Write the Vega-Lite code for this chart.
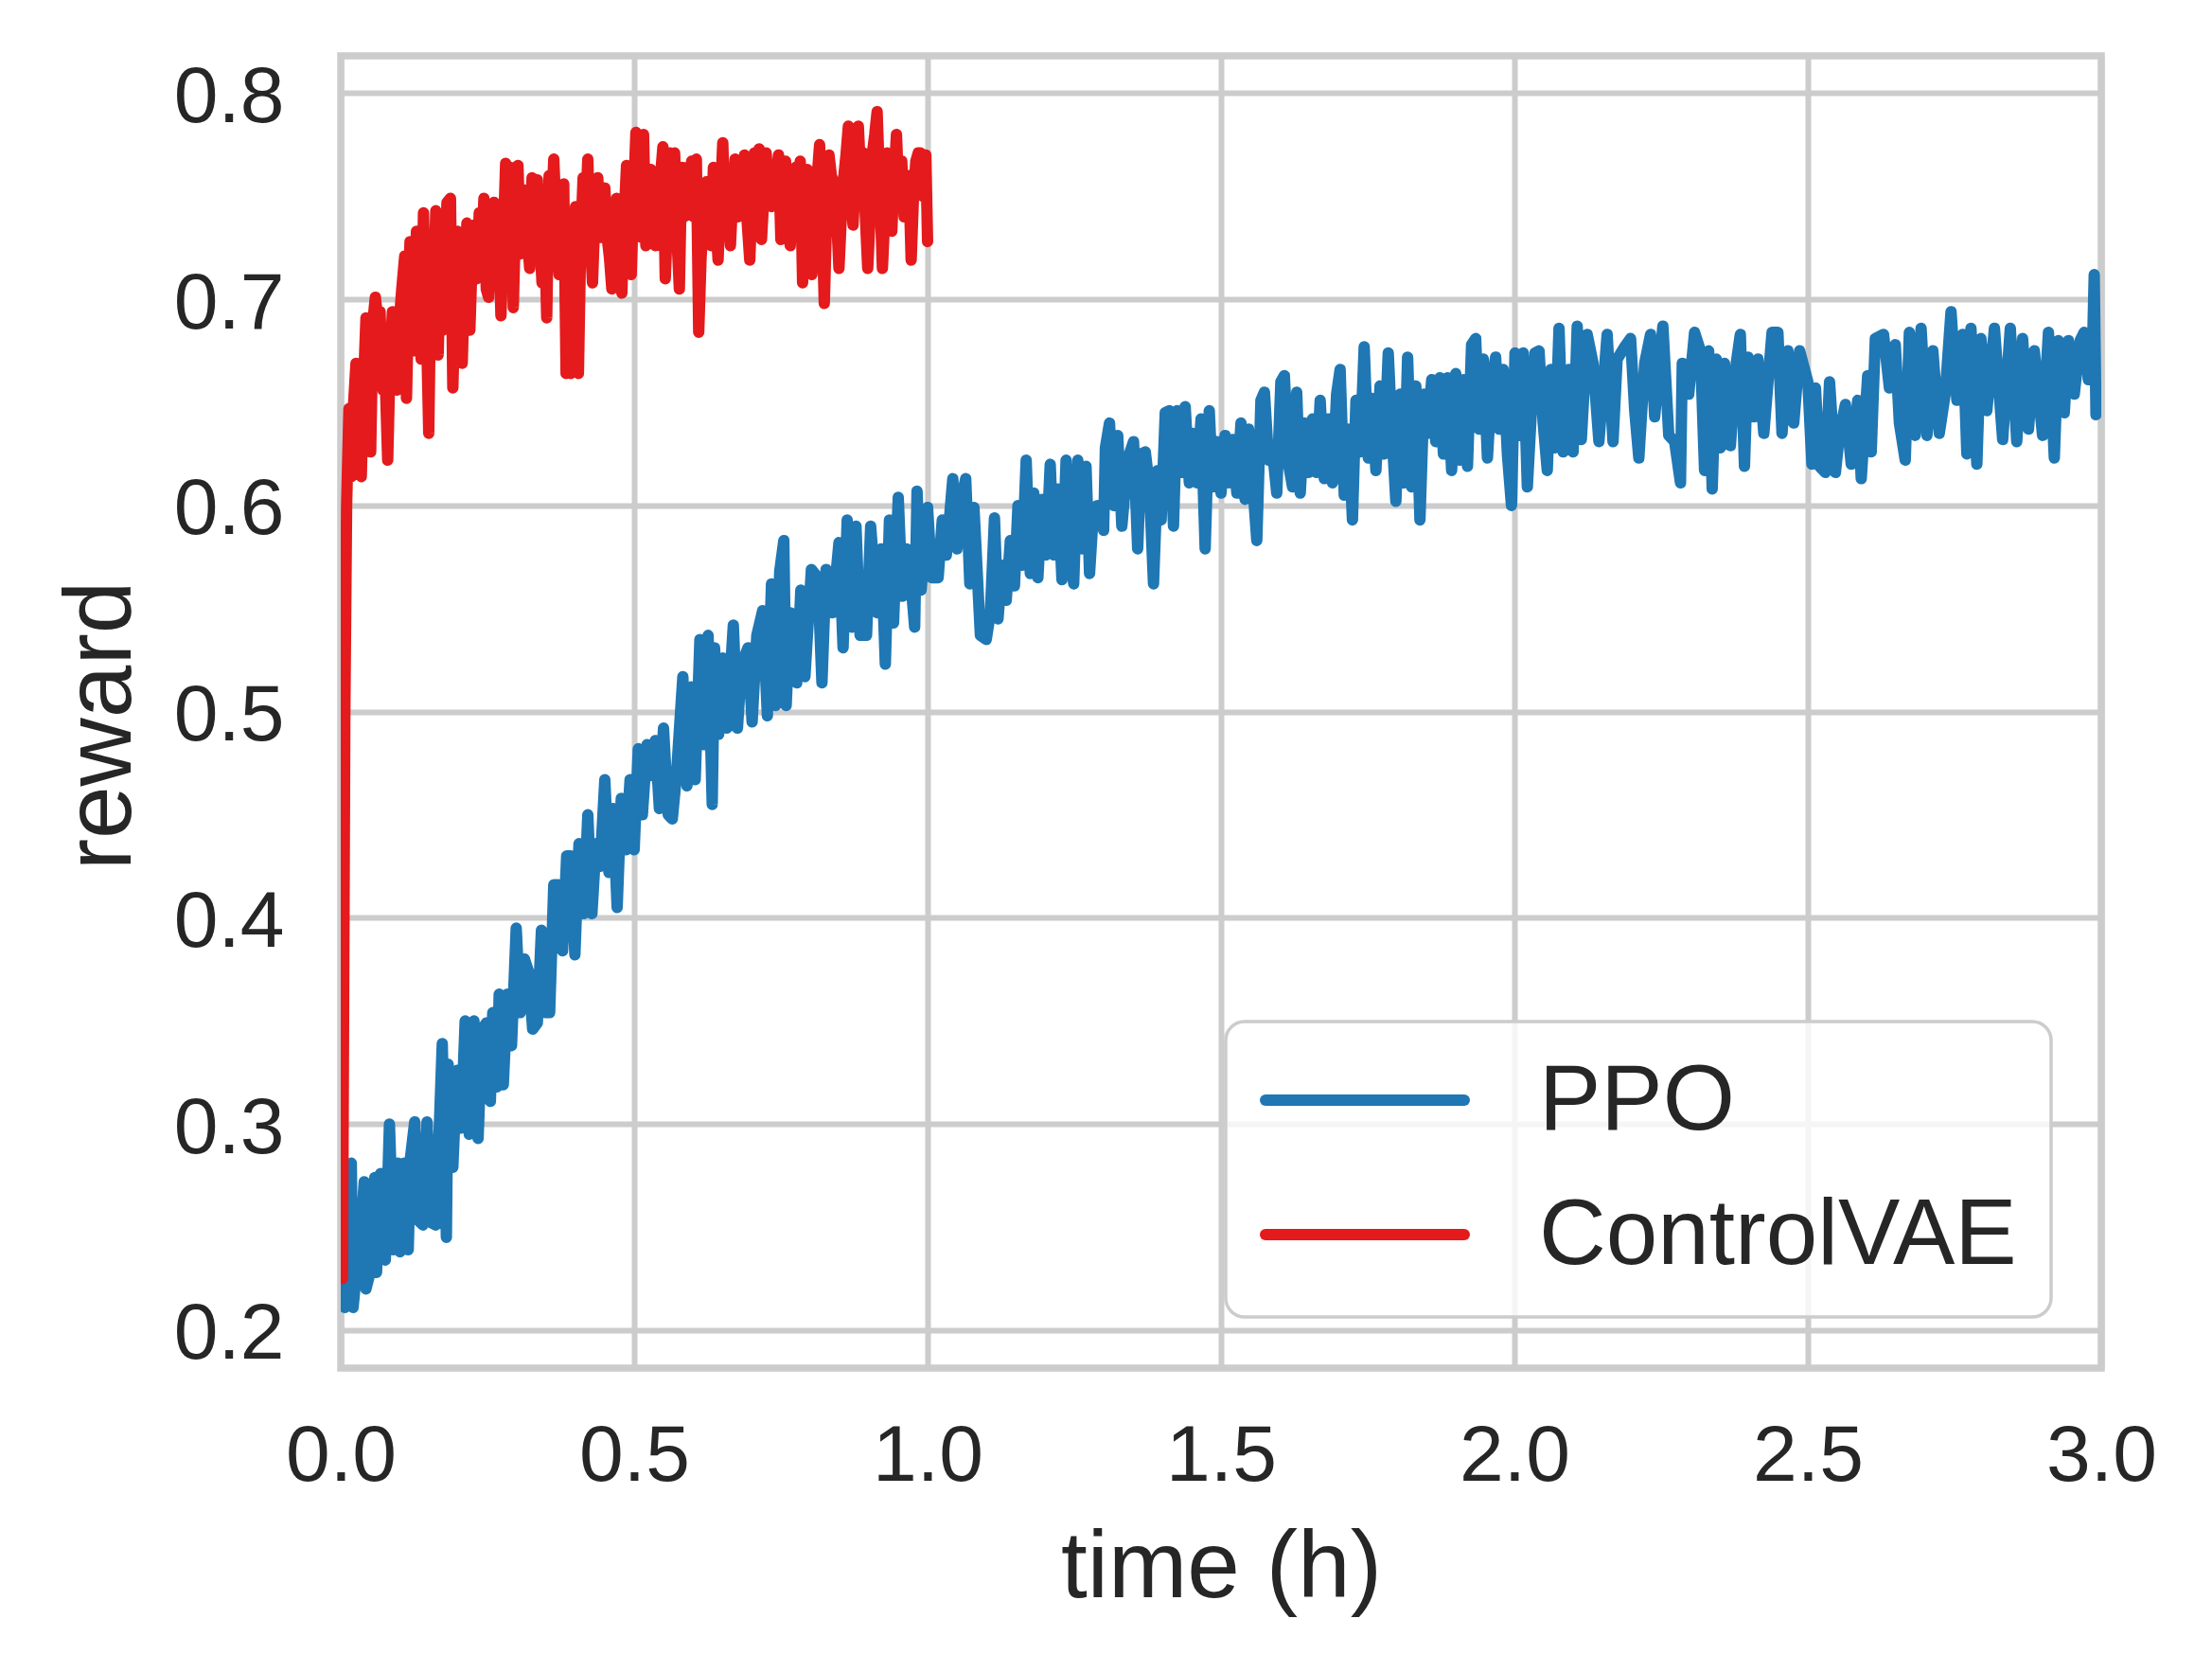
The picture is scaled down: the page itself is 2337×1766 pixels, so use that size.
{
  "$schema": "https://vega.github.io/schema/vega-lite/v6.json",
  "autosize": {"type": "none"},
  "padding": {"left": 360, "top": 59, "right": 117, "bottom": 321},
  "width": 1860,
  "height": 1386,
  "background": "white",
  "config": {
    "font": "Liberation Sans",
    "view": {"stroke": "#cccccc", "strokeWidth": 7.5},
    "axis": {
      "domain": false,
      "ticks": false,
      "tickSize": 0,
      "grid": true,
      "gridColor": "#cccccc",
      "gridWidth": 6,
      "labelFont": "Liberation Sans",
      "labelFontSize": 84,
      "labelColor": "#262626",
      "titleFont": "Liberation Sans",
      "titleFontSize": 100,
      "titleFontWeight": "normal",
      "titleColor": "#262626"
    },
    "legend": {
      "labelFont": "Liberation Sans",
      "labelFontSize": 98,
      "labelColor": "#262626",
      "labelLimit": 2000
    }
  },
  "data": {
    "values": [
      {"m":"PPO","t":0.003,"r":0.215},{"m":"PPO","t":0.007,"r":0.211},{"m":"PPO","t":0.010,"r":0.242},{"m":"PPO","t":0.018,"r":0.281},{"m":"PPO","t":0.021,"r":0.211},{"m":"PPO","t":0.025,"r":0.223},{"m":"PPO","t":0.032,"r":0.237},{"m":"PPO","t":0.040,"r":0.272},{"m":"PPO","t":0.043,"r":0.220},{"m":"PPO","t":0.050,"r":0.228},
      {"m":"PPO","t":0.058,"r":0.274},{"m":"PPO","t":0.061,"r":0.228},{"m":"PPO","t":0.068,"r":0.276},{"m":"PPO","t":0.076,"r":0.234},{"m":"PPO","t":0.083,"r":0.300},{"m":"PPO","t":0.090,"r":0.239},{"m":"PPO","t":0.097,"r":0.281},{"m":"PPO","t":0.101,"r":0.238},{"m":"PPO","t":0.108,"r":0.281},{"m":"PPO","t":0.115,"r":0.239},
      {"m":"PPO","t":0.119,"r":0.284},{"m":"PPO","t":0.126,"r":0.301},{"m":"PPO","t":0.133,"r":0.253},{"m":"PPO","t":0.140,"r":0.251},{"m":"PPO","t":0.147,"r":0.301},{"m":"PPO","t":0.155,"r":0.252},{"m":"PPO","t":0.162,"r":0.251},{"m":"PPO","t":0.173,"r":0.339},{"m":"PPO","t":0.180,"r":0.245},{"m":"PPO","t":0.183,"r":0.329},
      {"m":"PPO","t":0.191,"r":0.279},{"m":"PPO","t":0.198,"r":0.326},{"m":"PPO","t":0.205,"r":0.298},{"m":"PPO","t":0.212,"r":0.350},{"m":"PPO","t":0.219,"r":0.295},{"m":"PPO","t":0.227,"r":0.350},{"m":"PPO","t":0.234,"r":0.293},{"m":"PPO","t":0.241,"r":0.346},{"m":"PPO","t":0.248,"r":0.349},{"m":"PPO","t":0.255,"r":0.311},
      {"m":"PPO","t":0.259,"r":0.354},{"m":"PPO","t":0.266,"r":0.318},{"m":"PPO","t":0.270,"r":0.363},{"m":"PPO","t":0.277,"r":0.319},{"m":"PPO","t":0.284,"r":0.363},{"m":"PPO","t":0.291,"r":0.338},{"m":"PPO","t":0.299,"r":0.395},{"m":"PPO","t":0.306,"r":0.354},{"m":"PPO","t":0.313,"r":0.380},{"m":"PPO","t":0.320,"r":0.374},
      {"m":"PPO","t":0.327,"r":0.346},{"m":"PPO","t":0.335,"r":0.349},{"m":"PPO","t":0.342,"r":0.394},{"m":"PPO","t":0.349,"r":0.354},{"m":"PPO","t":0.356,"r":0.354},{"m":"PPO","t":0.363,"r":0.416},{"m":"PPO","t":0.371,"r":0.416},{"m":"PPO","t":0.378,"r":0.384},{"m":"PPO","t":0.385,"r":0.430},{"m":"PPO","t":0.392,"r":0.430},
      {"m":"PPO","t":0.399,"r":0.382},{"m":"PPO","t":0.406,"r":0.436},{"m":"PPO","t":0.414,"r":0.402},{"m":"PPO","t":0.421,"r":0.450},{"m":"PPO","t":0.428,"r":0.402},{"m":"PPO","t":0.435,"r":0.436},{"m":"PPO","t":0.442,"r":0.425},{"m":"PPO","t":0.450,"r":0.467},{"m":"PPO","t":0.457,"r":0.422},{"m":"PPO","t":0.464,"r":0.453},
      {"m":"PPO","t":0.471,"r":0.405},{"m":"PPO","t":0.478,"r":0.458},{"m":"PPO","t":0.486,"r":0.433},{"m":"PPO","t":0.493,"r":0.467},{"m":"PPO","t":0.500,"r":0.433},{"m":"PPO","t":0.507,"r":0.482},{"m":"PPO","t":0.514,"r":0.450},{"m":"PPO","t":0.522,"r":0.484},{"m":"PPO","t":0.529,"r":0.469},{"m":"PPO","t":0.536,"r":0.486},
      {"m":"PPO","t":0.543,"r":0.453},{"m":"PPO","t":0.550,"r":0.492},{"m":"PPO","t":0.558,"r":0.450},{"m":"PPO","t":0.565,"r":0.448},{"m":"PPO","t":0.572,"r":0.469},{"m":"PPO","t":0.583,"r":0.517},{"m":"PPO","t":0.590,"r":0.464},{"m":"PPO","t":0.597,"r":0.512},{"m":"PPO","t":0.604,"r":0.467},{"m":"PPO","t":0.612,"r":0.535},
      {"m":"PPO","t":0.619,"r":0.484},{"m":"PPO","t":0.626,"r":0.537},{"m":"PPO","t":0.633,"r":0.455},{"m":"PPO","t":0.637,"r":0.531},{"m":"PPO","t":0.644,"r":0.489},{"m":"PPO","t":0.651,"r":0.526},{"m":"PPO","t":0.658,"r":0.492},{"m":"PPO","t":0.669,"r":0.542},{"m":"PPO","t":0.676,"r":0.492},{"m":"PPO","t":0.683,"r":0.523},
      {"m":"PPO","t":0.694,"r":0.531},{"m":"PPO","t":0.701,"r":0.495},{"m":"PPO","t":0.709,"r":0.537},{"m":"PPO","t":0.719,"r":0.549},{"m":"PPO","t":0.727,"r":0.498},{"m":"PPO","t":0.734,"r":0.562},{"m":"PPO","t":0.741,"r":0.503},{"m":"PPO","t":0.748,"r":0.568},{"m":"PPO","t":0.755,"r":0.583},{"m":"PPO","t":0.759,"r":0.503},
      {"m":"PPO","t":0.766,"r":0.548},{"m":"PPO","t":0.777,"r":0.514},{"m":"PPO","t":0.784,"r":0.559},{"m":"PPO","t":0.791,"r":0.517},{"m":"PPO","t":0.802,"r":0.569},{"m":"PPO","t":0.813,"r":0.565},{"m":"PPO","t":0.820,"r":0.514},{"m":"PPO","t":0.827,"r":0.569},{"m":"PPO","t":0.838,"r":0.548},{"m":"PPO","t":0.849,"r":0.582},
      {"m":"PPO","t":0.856,"r":0.531},{"m":"PPO","t":0.863,"r":0.593},{"m":"PPO","t":0.871,"r":0.541},{"m":"PPO","t":0.878,"r":0.590},{"m":"PPO","t":0.885,"r":0.537},{"m":"PPO","t":0.896,"r":0.537},{"m":"PPO","t":0.903,"r":0.590},{"m":"PPO","t":0.914,"r":0.548},{"m":"PPO","t":0.921,"r":0.579},{"m":"PPO","t":0.928,"r":0.523},
      {"m":"PPO","t":0.935,"r":0.593},{"m":"PPO","t":0.942,"r":0.543},{"m":"PPO","t":0.950,"r":0.604},{"m":"PPO","t":0.957,"r":0.556},{"m":"PPO","t":0.964,"r":0.579},{"m":"PPO","t":0.971,"r":0.565},{"m":"PPO","t":0.978,"r":0.541},{"m":"PPO","t":0.982,"r":0.607},{"m":"PPO","t":0.989,"r":0.559},{"m":"PPO","t":1.000,"r":0.599},
      {"m":"PPO","t":1.007,"r":0.565},{"m":"PPO","t":1.018,"r":0.565},{"m":"PPO","t":1.025,"r":0.593},{"m":"PPO","t":1.032,"r":0.576},{"m":"PPO","t":1.043,"r":0.613},{"m":"PPO","t":1.050,"r":0.579},{"m":"PPO","t":1.058,"r":0.604},{"m":"PPO","t":1.065,"r":0.613},{"m":"PPO","t":1.072,"r":0.562},{"m":"PPO","t":1.079,"r":0.599},
      {"m":"PPO","t":1.090,"r":0.537},{"m":"PPO","t":1.100,"r":0.535},{"m":"PPO","t":1.107,"r":0.548},{"m":"PPO","t":1.114,"r":0.594},{"m":"PPO","t":1.120,"r":0.545},{"m":"PPO","t":1.127,"r":0.571},{"m":"PPO","t":1.134,"r":0.554},{"m":"PPO","t":1.141,"r":0.583},{"m":"PPO","t":1.148,"r":0.561},{"m":"PPO","t":1.154,"r":0.600},
      {"m":"PPO","t":1.161,"r":0.571},{"m":"PPO","t":1.168,"r":0.622},{"m":"PPO","t":1.175,"r":0.567},{"m":"PPO","t":1.181,"r":0.606},{"m":"PPO","t":1.188,"r":0.565},{"m":"PPO","t":1.195,"r":0.603},{"m":"PPO","t":1.202,"r":0.576},{"m":"PPO","t":1.209,"r":0.620},{"m":"PPO","t":1.215,"r":0.576},{"m":"PPO","t":1.222,"r":0.608},
      {"m":"PPO","t":1.229,"r":0.564},{"m":"PPO","t":1.236,"r":0.622},{"m":"PPO","t":1.242,"r":0.579},{"m":"PPO","t":1.249,"r":0.562},{"m":"PPO","t":1.256,"r":0.622},{"m":"PPO","t":1.263,"r":0.579},{"m":"PPO","t":1.270,"r":0.619},{"m":"PPO","t":1.276,"r":0.567},{"m":"PPO","t":1.283,"r":0.599},{"m":"PPO","t":1.290,"r":0.600},
      {"m":"PPO","t":1.300,"r":0.588},{"m":"PPO","t":1.303,"r":0.628},{"m":"PPO","t":1.310,"r":0.640},{"m":"PPO","t":1.317,"r":0.600},{"m":"PPO","t":1.324,"r":0.634},{"m":"PPO","t":1.331,"r":0.590},{"m":"PPO","t":1.337,"r":0.609},{"m":"PPO","t":1.344,"r":0.625},{"m":"PPO","t":1.351,"r":0.631},{"m":"PPO","t":1.358,"r":0.579},
      {"m":"PPO","t":1.364,"r":0.625},{"m":"PPO","t":1.371,"r":0.626},{"m":"PPO","t":1.378,"r":0.609},{"m":"PPO","t":1.385,"r":0.562},{"m":"PPO","t":1.392,"r":0.617},{"m":"PPO","t":1.398,"r":0.593},{"m":"PPO","t":1.405,"r":0.645},{"m":"PPO","t":1.412,"r":0.646},{"m":"PPO","t":1.419,"r":0.590},{"m":"PPO","t":1.425,"r":0.646},
      {"m":"PPO","t":1.432,"r":0.616},{"m":"PPO","t":1.439,"r":0.648},{"m":"PPO","t":1.446,"r":0.611},{"m":"PPO","t":1.452,"r":0.635},{"m":"PPO","t":1.459,"r":0.611},{"m":"PPO","t":1.466,"r":0.642},{"m":"PPO","t":1.473,"r":0.579},{"m":"PPO","t":1.480,"r":0.646},{"m":"PPO","t":1.486,"r":0.609},{"m":"PPO","t":1.493,"r":0.631},
      {"m":"PPO","t":1.500,"r":0.606},{"m":"PPO","t":1.507,"r":0.634},{"m":"PPO","t":1.513,"r":0.611},{"m":"PPO","t":1.520,"r":0.632},{"m":"PPO","t":1.527,"r":0.606},{"m":"PPO","t":1.534,"r":0.640},{"m":"PPO","t":1.541,"r":0.603},{"m":"PPO","t":1.547,"r":0.637},{"m":"PPO","t":1.554,"r":0.611},{"m":"PPO","t":1.561,"r":0.583},
      {"m":"PPO","t":1.568,"r":0.651},{"m":"PPO","t":1.574,"r":0.655},{"m":"PPO","t":1.581,"r":0.622},{"m":"PPO","t":1.588,"r":0.626},{"m":"PPO","t":1.595,"r":0.606},{"m":"PPO","t":1.602,"r":0.660},{"m":"PPO","t":1.608,"r":0.663},{"m":"PPO","t":1.615,"r":0.620},{"m":"PPO","t":1.622,"r":0.609},{"m":"PPO","t":1.629,"r":0.655},
      {"m":"PPO","t":1.635,"r":0.606},{"m":"PPO","t":1.642,"r":0.640},{"m":"PPO","t":1.649,"r":0.616},{"m":"PPO","t":1.656,"r":0.642},{"m":"PPO","t":1.663,"r":0.616},{"m":"PPO","t":1.669,"r":0.651},{"m":"PPO","t":1.676,"r":0.613},{"m":"PPO","t":1.683,"r":0.642},{"m":"PPO","t":1.690,"r":0.611},{"m":"PPO","t":1.697,"r":0.654},
      {"m":"PPO","t":1.703,"r":0.666},{"m":"PPO","t":1.710,"r":0.605},{"m":"PPO","t":1.717,"r":0.637},{"m":"PPO","t":1.724,"r":0.593},{"m":"PPO","t":1.730,"r":0.651},{"m":"PPO","t":1.737,"r":0.626},{"m":"PPO","t":1.744,"r":0.677},{"m":"PPO","t":1.751,"r":0.623},{"m":"PPO","t":1.757,"r":0.652},{"m":"PPO","t":1.764,"r":0.617},
      {"m":"PPO","t":1.771,"r":0.658},{"m":"PPO","t":1.778,"r":0.625},{"m":"PPO","t":1.785,"r":0.674},{"m":"PPO","t":1.791,"r":0.637},{"m":"PPO","t":1.798,"r":0.602},{"m":"PPO","t":1.805,"r":0.654},{"m":"PPO","t":1.812,"r":0.611},{"m":"PPO","t":1.818,"r":0.672},{"m":"PPO","t":1.825,"r":0.609},{"m":"PPO","t":1.832,"r":0.658},
      {"m":"PPO","t":1.839,"r":0.593},{"m":"PPO","t":1.846,"r":0.654},{"m":"PPO","t":1.852,"r":0.635},{"m":"PPO","t":1.859,"r":0.661},{"m":"PPO","t":1.866,"r":0.631},{"m":"PPO","t":1.873,"r":0.662},{"m":"PPO","t":1.879,"r":0.625},{"m":"PPO","t":1.886,"r":0.662},{"m":"PPO","t":1.893,"r":0.617},{"m":"PPO","t":1.900,"r":0.664},
      {"m":"PPO","t":1.907,"r":0.622},{"m":"PPO","t":1.913,"r":0.661},{"m":"PPO","t":1.920,"r":0.619},{"m":"PPO","t":1.927,"r":0.678},{"m":"PPO","t":1.934,"r":0.681},{"m":"PPO","t":1.940,"r":0.637},{"m":"PPO","t":1.947,"r":0.671},{"m":"PPO","t":1.954,"r":0.623},{"m":"PPO","t":1.961,"r":0.658},{"m":"PPO","t":1.968,"r":0.672},
      {"m":"PPO","t":1.974,"r":0.637},{"m":"PPO","t":1.981,"r":0.666},{"m":"PPO","t":1.988,"r":0.625},{"m":"PPO","t":1.995,"r":0.600},{"m":"PPO","t":2.001,"r":0.674},{"m":"PPO","t":2.008,"r":0.634},{"m":"PPO","t":2.015,"r":0.674},{"m":"PPO","t":2.022,"r":0.609},{"m":"PPO","t":2.029,"r":0.646},{"m":"PPO","t":2.035,"r":0.674},
      {"m":"PPO","t":2.042,"r":0.675},{"m":"PPO","t":2.049,"r":0.640},{"m":"PPO","t":2.056,"r":0.617},{"m":"PPO","t":2.062,"r":0.666},{"m":"PPO","t":2.069,"r":0.628},{"m":"PPO","t":2.076,"r":0.686},{"m":"PPO","t":2.083,"r":0.626},{"m":"PPO","t":2.093,"r":0.666},{"m":"PPO","t":2.100,"r":0.626},{"m":"PPO","t":2.107,"r":0.687},
      {"m":"PPO","t":2.114,"r":0.632},{"m":"PPO","t":2.124,"r":0.683},{"m":"PPO","t":2.134,"r":0.669},{"m":"PPO","t":2.144,"r":0.631},{"m":"PPO","t":2.158,"r":0.683},{"m":"PPO","t":2.168,"r":0.631},{"m":"PPO","t":2.175,"r":0.671},{"m":"PPO","t":2.188,"r":0.677},{"m":"PPO","t":2.198,"r":0.681},{"m":"PPO","t":2.205,"r":0.646},
      {"m":"PPO","t":2.212,"r":0.623},{"m":"PPO","t":2.222,"r":0.669},{"m":"PPO","t":2.232,"r":0.683},{"m":"PPO","t":2.239,"r":0.643},{"m":"PPO","t":2.253,"r":0.687},{"m":"PPO","t":2.263,"r":0.634},{"m":"PPO","t":2.273,"r":0.631},{"m":"PPO","t":2.283,"r":0.611},{"m":"PPO","t":2.286,"r":0.669},{"m":"PPO","t":2.297,"r":0.654},
      {"m":"PPO","t":2.307,"r":0.684},{"m":"PPO","t":2.317,"r":0.675},{"m":"PPO","t":2.324,"r":0.617},{"m":"PPO","t":2.331,"r":0.675},{"m":"PPO","t":2.337,"r":0.608},{"m":"PPO","t":2.344,"r":0.671},{"m":"PPO","t":2.351,"r":0.628},{"m":"PPO","t":2.358,"r":0.669},{"m":"PPO","t":2.368,"r":0.629},{"m":"PPO","t":2.378,"r":0.669},
      {"m":"PPO","t":2.385,"r":0.683},{"m":"PPO","t":2.392,"r":0.619},{"m":"PPO","t":2.398,"r":0.672},{"m":"PPO","t":2.408,"r":0.643},{"m":"PPO","t":2.415,"r":0.671},{"m":"PPO","t":2.425,"r":0.635},{"m":"PPO","t":2.439,"r":0.684},{"m":"PPO","t":2.449,"r":0.684},{"m":"PPO","t":2.456,"r":0.635},{"m":"PPO","t":2.466,"r":0.675},
      {"m":"PPO","t":2.476,"r":0.640},{"m":"PPO","t":2.486,"r":0.675},{"m":"PPO","t":2.500,"r":0.660},{"m":"PPO","t":2.507,"r":0.620},{"m":"PPO","t":2.513,"r":0.657},{"m":"PPO","t":2.520,"r":0.619},{"m":"PPO","t":2.530,"r":0.616},{"m":"PPO","t":2.537,"r":0.660},{"m":"PPO","t":2.547,"r":0.616},{"m":"PPO","t":2.554,"r":0.635},
      {"m":"PPO","t":2.564,"r":0.649},{"m":"PPO","t":2.574,"r":0.620},{"m":"PPO","t":2.585,"r":0.651},{"m":"PPO","t":2.591,"r":0.613},{"m":"PPO","t":2.602,"r":0.663},{"m":"PPO","t":2.608,"r":0.626},{"m":"PPO","t":2.615,"r":0.681},{"m":"PPO","t":2.629,"r":0.683},{"m":"PPO","t":2.639,"r":0.657},{"m":"PPO","t":2.649,"r":0.678},
      {"m":"PPO","t":2.656,"r":0.640},{"m":"PPO","t":2.666,"r":0.622},{"m":"PPO","t":2.673,"r":0.684},{"m":"PPO","t":2.683,"r":0.634},{"m":"PPO","t":2.693,"r":0.686},{"m":"PPO","t":2.703,"r":0.634},{"m":"PPO","t":2.713,"r":0.675},{"m":"PPO","t":2.724,"r":0.635},{"m":"PPO","t":2.734,"r":0.654},{"m":"PPO","t":2.744,"r":0.694},
      {"m":"PPO","t":2.754,"r":0.651},{"m":"PPO","t":2.764,"r":0.683},{"m":"PPO","t":2.771,"r":0.625},{"m":"PPO","t":2.778,"r":0.686},{"m":"PPO","t":2.788,"r":0.620},{"m":"PPO","t":2.795,"r":0.681},{"m":"PPO","t":2.805,"r":0.646},{"m":"PPO","t":2.818,"r":0.686},{"m":"PPO","t":2.832,"r":0.632},{"m":"PPO","t":2.845,"r":0.686},
      {"m":"PPO","t":2.856,"r":0.631},{"m":"PPO","t":2.866,"r":0.681},{"m":"PPO","t":2.876,"r":0.637},{"m":"PPO","t":2.886,"r":0.675},{"m":"PPO","t":2.900,"r":0.634},{"m":"PPO","t":2.910,"r":0.684},{"m":"PPO","t":2.920,"r":0.623},{"m":"PPO","t":2.927,"r":0.680},{"m":"PPO","t":2.937,"r":0.645},{"m":"PPO","t":2.944,"r":0.680},
      {"m":"PPO","t":2.954,"r":0.654},{"m":"PPO","t":2.964,"r":0.680},{"m":"PPO","t":2.971,"r":0.684},{"m":"PPO","t":2.978,"r":0.661},{"m":"PPO","t":2.985,"r":0.675},{"m":"PPO","t":2.988,"r":0.712},{"m":"PPO","t":2.991,"r":0.644},

      {"m":"ControlVAE","t":0.003,"r":0.225},{"m":"ControlVAE","t":0.007,"r":0.500},{"m":"ControlVAE","t":0.010,"r":0.600},{"m":"ControlVAE","t":0.014,"r":0.647},{"m":"ControlVAE","t":0.018,"r":0.614},{"m":"ControlVAE","t":0.022,"r":0.650},{"m":"ControlVAE","t":0.026,"r":0.669},{"m":"ControlVAE","t":0.030,"r":0.630},{"m":"ControlVAE","t":0.035,"r":0.614},{"m":"ControlVAE","t":0.039,"r":0.660},
      {"m":"ControlVAE","t":0.043,"r":0.691},{"m":"ControlVAE","t":0.047,"r":0.640},{"m":"ControlVAE","t":0.051,"r":0.626},{"m":"ControlVAE","t":0.055,"r":0.690},{"m":"ControlVAE","t":0.059,"r":0.701},{"m":"ControlVAE","t":0.063,"r":0.690},{"m":"ControlVAE","t":0.067,"r":0.694},{"m":"ControlVAE","t":0.072,"r":0.656},{"m":"ControlVAE","t":0.076,"r":0.660},{"m":"ControlVAE","t":0.080,"r":0.622},
      {"m":"ControlVAE","t":0.084,"r":0.670},{"m":"ControlVAE","t":0.088,"r":0.694},{"m":"ControlVAE","t":0.092,"r":0.680},{"m":"ControlVAE","t":0.096,"r":0.656},{"m":"ControlVAE","t":0.100,"r":0.690},{"m":"ControlVAE","t":0.104,"r":0.705},{"m":"ControlVAE","t":0.109,"r":0.721},{"m":"ControlVAE","t":0.112,"r":0.652},{"m":"ControlVAE","t":0.118,"r":0.728},{"m":"ControlVAE","t":0.121,"r":0.700},
      {"m":"ControlVAE","t":0.125,"r":0.675},{"m":"ControlVAE","t":0.129,"r":0.733},{"m":"ControlVAE","t":0.133,"r":0.700},{"m":"ControlVAE","t":0.137,"r":0.671},{"m":"ControlVAE","t":0.141,"r":0.742},{"m":"ControlVAE","t":0.145,"r":0.700},{"m":"ControlVAE","t":0.150,"r":0.635},{"m":"ControlVAE","t":0.154,"r":0.722},{"m":"ControlVAE","t":0.158,"r":0.700},{"m":"ControlVAE","t":0.162,"r":0.743},
      {"m":"ControlVAE","t":0.166,"r":0.673},{"m":"ControlVAE","t":0.170,"r":0.720},{"m":"ControlVAE","t":0.174,"r":0.685},{"m":"ControlVAE","t":0.178,"r":0.720},{"m":"ControlVAE","t":0.181,"r":0.747},{"m":"ControlVAE","t":0.187,"r":0.749},{"m":"ControlVAE","t":0.191,"r":0.657},{"m":"ControlVAE","t":0.195,"r":0.700},{"m":"ControlVAE","t":0.199,"r":0.733},{"m":"ControlVAE","t":0.203,"r":0.720},
      {"m":"ControlVAE","t":0.207,"r":0.669},{"m":"ControlVAE","t":0.211,"r":0.710},{"m":"ControlVAE","t":0.215,"r":0.737},{"m":"ControlVAE","t":0.220,"r":0.685},{"m":"ControlVAE","t":0.224,"r":0.720},{"m":"ControlVAE","t":0.228,"r":0.736},{"m":"ControlVAE","t":0.232,"r":0.710},{"m":"ControlVAE","t":0.236,"r":0.742},{"m":"ControlVAE","t":0.240,"r":0.720},{"m":"ControlVAE","t":0.244,"r":0.749},
      {"m":"ControlVAE","t":0.248,"r":0.705},{"m":"ControlVAE","t":0.252,"r":0.701},{"m":"ControlVAE","t":0.256,"r":0.730},{"m":"ControlVAE","t":0.261,"r":0.747},{"m":"ControlVAE","t":0.265,"r":0.720},{"m":"ControlVAE","t":0.269,"r":0.733},{"m":"ControlVAE","t":0.273,"r":0.692},{"m":"ControlVAE","t":0.277,"r":0.730},{"m":"ControlVAE","t":0.281,"r":0.766},{"m":"ControlVAE","t":0.285,"r":0.730},
      {"m":"ControlVAE","t":0.289,"r":0.764},{"m":"ControlVAE","t":0.294,"r":0.696},{"m":"ControlVAE","t":0.298,"r":0.740},{"m":"ControlVAE","t":0.302,"r":0.765},{"m":"ControlVAE","t":0.306,"r":0.722},{"m":"ControlVAE","t":0.310,"r":0.740},{"m":"ControlVAE","t":0.314,"r":0.753},{"m":"ControlVAE","t":0.318,"r":0.730},{"m":"ControlVAE","t":0.322,"r":0.715},{"m":"ControlVAE","t":0.326,"r":0.759},
      {"m":"ControlVAE","t":0.330,"r":0.740},{"m":"ControlVAE","t":0.335,"r":0.758},{"m":"ControlVAE","t":0.339,"r":0.730},{"m":"ControlVAE","t":0.343,"r":0.708},{"m":"ControlVAE","t":0.347,"r":0.740},{"m":"ControlVAE","t":0.351,"r":0.691},{"m":"ControlVAE","t":0.355,"r":0.760},{"m":"ControlVAE","t":0.359,"r":0.740},{"m":"ControlVAE","t":0.363,"r":0.768},{"m":"ControlVAE","t":0.367,"r":0.740},
      {"m":"ControlVAE","t":0.372,"r":0.712},{"m":"ControlVAE","t":0.376,"r":0.730},{"m":"ControlVAE","t":0.380,"r":0.756},{"m":"ControlVAE","t":0.384,"r":0.664},{"m":"ControlVAE","t":0.388,"r":0.700},{"m":"ControlVAE","t":0.392,"r":0.664},{"m":"ControlVAE","t":0.396,"r":0.720},{"m":"ControlVAE","t":0.400,"r":0.745},{"m":"ControlVAE","t":0.405,"r":0.664},{"m":"ControlVAE","t":0.409,"r":0.730},
      {"m":"ControlVAE","t":0.413,"r":0.759},{"m":"ControlVAE","t":0.417,"r":0.740},{"m":"ControlVAE","t":0.421,"r":0.768},{"m":"ControlVAE","t":0.425,"r":0.730},{"m":"ControlVAE","t":0.429,"r":0.708},{"m":"ControlVAE","t":0.433,"r":0.740},{"m":"ControlVAE","t":0.438,"r":0.759},{"m":"ControlVAE","t":0.442,"r":0.730},{"m":"ControlVAE","t":0.446,"r":0.745},{"m":"ControlVAE","t":0.450,"r":0.754},
      {"m":"ControlVAE","t":0.454,"r":0.730},{"m":"ControlVAE","t":0.458,"r":0.720},{"m":"ControlVAE","t":0.462,"r":0.705},{"m":"ControlVAE","t":0.466,"r":0.730},{"m":"ControlVAE","t":0.470,"r":0.749},{"m":"ControlVAE","t":0.475,"r":0.720},{"m":"ControlVAE","t":0.479,"r":0.703},{"m":"ControlVAE","t":0.483,"r":0.740},{"m":"ControlVAE","t":0.487,"r":0.765},{"m":"ControlVAE","t":0.491,"r":0.740},
      {"m":"ControlVAE","t":0.495,"r":0.712},{"m":"ControlVAE","t":0.499,"r":0.750},{"m":"ControlVAE","t":0.503,"r":0.781},{"m":"ControlVAE","t":0.507,"r":0.750},{"m":"ControlVAE","t":0.512,"r":0.730},{"m":"ControlVAE","t":0.516,"r":0.780},{"m":"ControlVAE","t":0.520,"r":0.726},{"m":"ControlVAE","t":0.524,"r":0.750},{"m":"ControlVAE","t":0.528,"r":0.763},{"m":"ControlVAE","t":0.532,"r":0.740},
      {"m":"ControlVAE","t":0.536,"r":0.726},{"m":"ControlVAE","t":0.540,"r":0.750},{"m":"ControlVAE","t":0.545,"r":0.760},{"m":"ControlVAE","t":0.549,"r":0.774},{"m":"ControlVAE","t":0.553,"r":0.710},{"m":"ControlVAE","t":0.557,"r":0.740},{"m":"ControlVAE","t":0.561,"r":0.771},{"m":"ControlVAE","t":0.565,"r":0.750},{"m":"ControlVAE","t":0.569,"r":0.771},{"m":"ControlVAE","t":0.573,"r":0.730},
      {"m":"ControlVAE","t":0.577,"r":0.705},{"m":"ControlVAE","t":0.581,"r":0.764},{"m":"ControlVAE","t":0.585,"r":0.740},{"m":"ControlVAE","t":0.590,"r":0.764},{"m":"ControlVAE","t":0.594,"r":0.750},{"m":"ControlVAE","t":0.598,"r":0.767},{"m":"ControlVAE","t":0.602,"r":0.740},{"m":"ControlVAE","t":0.606,"r":0.768},{"m":"ControlVAE","t":0.610,"r":0.684},{"m":"ControlVAE","t":0.614,"r":0.720},
      {"m":"ControlVAE","t":0.618,"r":0.740},{"m":"ControlVAE","t":0.623,"r":0.757},{"m":"ControlVAE","t":0.627,"r":0.740},{"m":"ControlVAE","t":0.631,"r":0.726},{"m":"ControlVAE","t":0.635,"r":0.764},{"m":"ControlVAE","t":0.639,"r":0.740},{"m":"ControlVAE","t":0.643,"r":0.719},{"m":"ControlVAE","t":0.647,"r":0.750},{"m":"ControlVAE","t":0.651,"r":0.776},{"m":"ControlVAE","t":0.655,"r":0.740},
      {"m":"ControlVAE","t":0.660,"r":0.750},{"m":"ControlVAE","t":0.664,"r":0.726},{"m":"ControlVAE","t":0.668,"r":0.750},{"m":"ControlVAE","t":0.672,"r":0.768},{"m":"ControlVAE","t":0.676,"r":0.740},{"m":"ControlVAE","t":0.680,"r":0.745},{"m":"ControlVAE","t":0.684,"r":0.750},{"m":"ControlVAE","t":0.688,"r":0.770},{"m":"ControlVAE","t":0.692,"r":0.740},{"m":"ControlVAE","t":0.697,"r":0.719},
      {"m":"ControlVAE","t":0.701,"r":0.750},{"m":"ControlVAE","t":0.705,"r":0.771},{"m":"ControlVAE","t":0.709,"r":0.750},{"m":"ControlVAE","t":0.713,"r":0.773},{"m":"ControlVAE","t":0.717,"r":0.729},{"m":"ControlVAE","t":0.721,"r":0.750},{"m":"ControlVAE","t":0.725,"r":0.771},{"m":"ControlVAE","t":0.729,"r":0.750},{"m":"ControlVAE","t":0.734,"r":0.745},{"m":"ControlVAE","t":0.738,"r":0.750},
      {"m":"ControlVAE","t":0.742,"r":0.760},{"m":"ControlVAE","t":0.746,"r":0.770},{"m":"ControlVAE","t":0.750,"r":0.729},{"m":"ControlVAE","t":0.754,"r":0.750},{"m":"ControlVAE","t":0.758,"r":0.767},{"m":"ControlVAE","t":0.762,"r":0.740},{"m":"ControlVAE","t":0.766,"r":0.726},{"m":"ControlVAE","t":0.770,"r":0.750},{"m":"ControlVAE","t":0.775,"r":0.764},{"m":"ControlVAE","t":0.779,"r":0.750},
      {"m":"ControlVAE","t":0.783,"r":0.767},{"m":"ControlVAE","t":0.787,"r":0.708},{"m":"ControlVAE","t":0.791,"r":0.740},{"m":"ControlVAE","t":0.795,"r":0.763},{"m":"ControlVAE","t":0.799,"r":0.740},{"m":"ControlVAE","t":0.803,"r":0.712},{"m":"ControlVAE","t":0.808,"r":0.740},{"m":"ControlVAE","t":0.812,"r":0.760},{"m":"ControlVAE","t":0.816,"r":0.775},{"m":"ControlVAE","t":0.820,"r":0.740},
      {"m":"ControlVAE","t":0.824,"r":0.698},{"m":"ControlVAE","t":0.828,"r":0.740},{"m":"ControlVAE","t":0.832,"r":0.770},{"m":"ControlVAE","t":0.836,"r":0.760},{"m":"ControlVAE","t":0.840,"r":0.757},{"m":"ControlVAE","t":0.845,"r":0.740},{"m":"ControlVAE","t":0.849,"r":0.715},{"m":"ControlVAE","t":0.853,"r":0.740},{"m":"ControlVAE","t":0.857,"r":0.759},{"m":"ControlVAE","t":0.861,"r":0.770},
      {"m":"ControlVAE","t":0.865,"r":0.784},{"m":"ControlVAE","t":0.869,"r":0.750},{"m":"ControlVAE","t":0.873,"r":0.736},{"m":"ControlVAE","t":0.877,"r":0.760},{"m":"ControlVAE","t":0.882,"r":0.784},{"m":"ControlVAE","t":0.886,"r":0.760},{"m":"ControlVAE","t":0.890,"r":0.771},{"m":"ControlVAE","t":0.894,"r":0.740},{"m":"ControlVAE","t":0.898,"r":0.715},{"m":"ControlVAE","t":0.902,"r":0.740},
      {"m":"ControlVAE","t":0.906,"r":0.771},{"m":"ControlVAE","t":0.910,"r":0.780},{"m":"ControlVAE","t":0.914,"r":0.791},{"m":"ControlVAE","t":0.919,"r":0.750},{"m":"ControlVAE","t":0.923,"r":0.715},{"m":"ControlVAE","t":0.927,"r":0.740},{"m":"ControlVAE","t":0.931,"r":0.771},{"m":"ControlVAE","t":0.935,"r":0.750},{"m":"ControlVAE","t":0.939,"r":0.733},{"m":"ControlVAE","t":0.943,"r":0.760},
      {"m":"ControlVAE","t":0.947,"r":0.780},{"m":"ControlVAE","t":0.951,"r":0.750},{"m":"ControlVAE","t":0.956,"r":0.767},{"m":"ControlVAE","t":0.960,"r":0.740},{"m":"ControlVAE","t":0.964,"r":0.745},{"m":"ControlVAE","t":0.968,"r":0.760},{"m":"ControlVAE","t":0.972,"r":0.719},{"m":"ControlVAE","t":0.976,"r":0.750},{"m":"ControlVAE","t":0.980,"r":0.767},{"m":"ControlVAE","t":0.984,"r":0.771},
      {"m":"ControlVAE","t":0.988,"r":0.771},{"m":"ControlVAE","t":0.992,"r":0.750},{"m":"ControlVAE","t":0.997,"r":0.770},{"m":"ControlVAE","t":1.000,"r":0.728}
    ]
  },
  "mark": {"type": "line", "strokeWidth": 12, "strokeJoin": "round", "strokeCap": "round", "clip": true},
  "encoding": {
    "x": {
      "field": "t",
      "type": "quantitative",
      "scale": {"domain": [0, 3], "nice": false, "zero": false},
      "axis": {
        "title": "time (h)",
        "values": [0, 0.5, 1, 1.5, 2, 2.5, 3],
        "format": ".1f",
        "labelPadding": 52,
        "labelFlush": false,
        "titleY": 241,
        "titleBaseline": "alphabetic"
      }
    },
    "y": {
      "field": "r",
      "type": "quantitative",
      "scale": {"domain": [0.1816, 0.8181], "nice": false, "zero": false},
      "axis": {
        "title": "reward",
        "values": [0.2, 0.3, 0.4, 0.5, 0.6, 0.7, 0.8],
        "format": ".1f",
        "labelPadding": 60,
        "labelOffset": 5,
        "labelFlush": false,
        "titleAngle": 270,
        "titleX": -223,
        "titleY": 707,
        "titleAlign": "center",
        "titleBaseline": "alphabetic"
      }
    },
    "color": {
      "field": "m",
      "type": "nominal",
      "sort": ["PPO", "ControlVAE"],
      "scale": {"domain": ["PPO", "ControlVAE"], "range": ["#1f77b4", "#e41a1c"]},
      "legend": {
        "title": null,
        "orient": "none",
        "legendX": 935,
        "legendY": 1020,
        "symbolType": "stroke",
        "symbolSize": 44100,
        "symbolStrokeWidth": 12,
        "labelOffset": 73,
        "labelLimit": 2000,
        "padding": 36,
        "rowPadding": 44,
        "fillColor": "rgba(255,255,255,0.8)",
        "strokeColor": "#cccccc",
        "cornerRadius": 20,
        "encode": {
          "legend": {"update": {"strokeWidth": {"value": 3.5}}},
          "symbols": {"update": {"y": {"value": 47}, "strokeCap": {"value": "round"}}},
          "labels": {"update": {"y": {"value": 49}}}
        }
      }
    }
  }
}
